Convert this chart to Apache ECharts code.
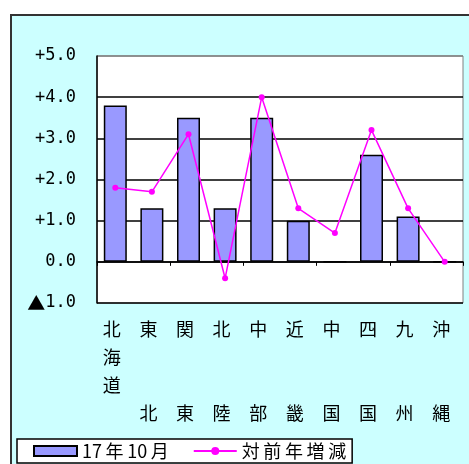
<!DOCTYPE html>
<html><head><meta charset="utf-8">
<script src="https://cdn.jsdelivr.net/npm/echarts@6/dist/echarts.min.js"></script>
<style>html,body{margin:0;padding:0;background:#fff}#c{width:469px;height:464px}</style>
</head><body><div id="c"></div>
<script>
const categories = ["北海道","東北","関東","北陸","中部","近畿","中国","四国","九州","沖縄"];
const barValues = [3.8, 1.3, 3.5, 1.3, 3.5, 1.0, 0.0, 2.6, 1.1, 0.0];
const lineValues = [1.8, 1.7, 3.1, -0.4, 4.0, 1.3, 0.7, 3.2, 1.3, 0.0];
const barName = "17年10月";
const lineName = "対前年増減";
const yTickLabels = {"-1":"▲1.0","0":"0.0","1":"+1.0","2":"+2.0","3":"+3.0","4":"+4.0","5":"+5.0"};

const chart = echarts.init(document.getElementById('c'), null, {renderer:'canvas'});
const cjk = '"Noto Sans CJK JP", sans-serif';
const mono = '"DejaVu Sans Mono", monospace';
function spaced(s){
  let out = '';
  for (let i = 0; i < s.length; i++) {
    const c = s[i], n = s[i+1];
    out += c;
    if (n !== undefined && (c.charCodeAt(0) > 255 || n.charCodeAt(0) > 255)) out += '\u2009';
  }
  return out;
}
chart.setOption({
  animation:false,
  backgroundColor:'#ffffff',
  graphic:[{type:'rect', z:-10, left:10, top:14, shape:{width:470, height:460},
    style:{fill:'#ccffff', stroke:'#333333', lineWidth:2}}],
  grid:{left:97, right:6, top:56, bottom:161, show:true, backgroundColor:'#ffffff', borderColor:'#808080', borderWidth:1},
  legend:{left:17, bottom:1, orient:'horizontal', backgroundColor:'#ffffff', borderColor:'#000', borderWidth:1.5, borderRadius:0,
    padding:[3,6,3,16], itemWidth:43, itemHeight:10, itemGap:24,
    formatter:function(n){ return spaced(n); },
    textStyle:{fontFamily:cjk, fontSize:18, color:'#000', padding:[0,0,0,0]},
    data:[{name:barName, icon:'rect'},{name:lineName}]},
  xAxis:[{type:'category', data:categories, position:'bottom',
    axisLine:{show:false, onZero:false}, axisTick:{show:false},
    axisLabel:{margin:12, fontFamily:cjk, fontSize:18, color:'#000', lineHeight:28, interval:0, padding:[0,7,0,0],
      formatter:function(v){ return v.length===3 ? v.split('').join('\n') : v[0]+'\n\n\n'+v.slice(1); }}},
   {type:'category', data:categories, gridIndex:0,
    axisLine:{show:true, onZero:true, lineStyle:{color:'#000', width:1.5}},
    axisTick:{show:true, inside:true, length:4, lineStyle:{color:'#000'}},
    axisLabel:{show:false}}],
  yAxis:{type:'value', min:-1, max:5, interval:1,
    axisLine:{show:true, lineStyle:{color:'#000', width:1.5}}, axisTick:{show:false},
    splitLine:{show:true, lineStyle:{color:['#000','#000','#000','#000','#000','#000','#808080'], width:1.5}},
    axisLabel:{margin:21, fontFamily:mono, fontSize:17, color:'#000',
      formatter:function(v){
        const s = yTickLabels[String(Math.round(v))];
        if (s.charAt(0) === '▲') return '{t|▲}{n|' + s.slice(1) + '}';
        return '{n|' + s + '}';
      },
      rich:{t:{fontFamily:cjk, fontSize:18, color:'#000'}, n:{fontFamily:mono, fontSize:17, color:'#000'}}}},
  series:[
    {name:barName, type:'bar', xAxisIndex:0, data:barValues, barWidth:23,
     itemStyle:{color:'#9999ff', borderColor:'#000', borderWidth:1.5}},
    {name:lineName, type:'line', xAxisIndex:0, data:lineValues, symbol:'circle', symbolSize:6,
     lineStyle:{color:'#ff00ff', width:1.5}, itemStyle:{color:'#ff00ff'}, z:5}
  ]
});
</script></body></html>
